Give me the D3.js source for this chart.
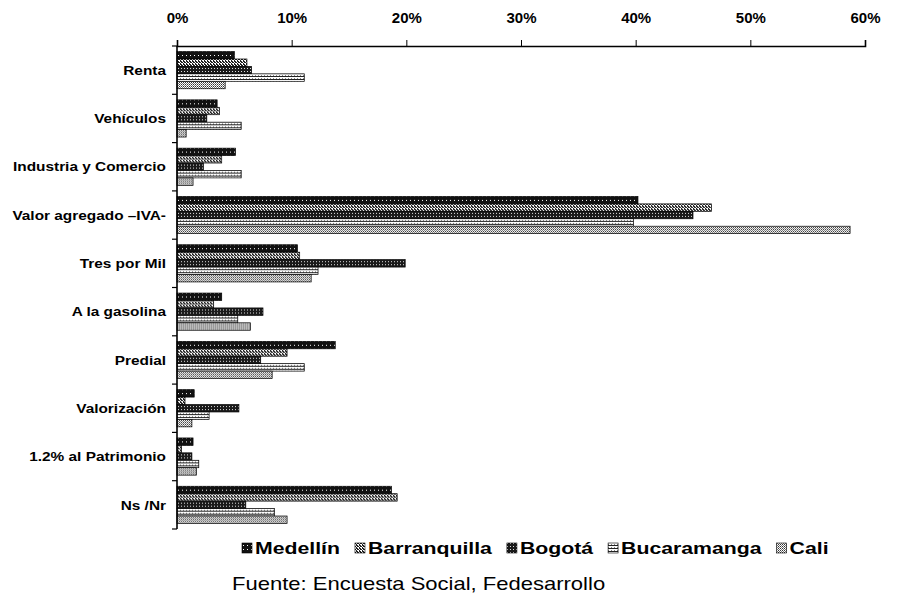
<!DOCTYPE html>
<html>
<head>
<meta charset="utf-8">
<script src="https://cdn.jsdelivr.net/npm/d3@7"></script>
<style>
  body { margin: 0; background: #fff; }
  text { font-family: "Liberation Sans", Arial, sans-serif; }
</style>
</head>
<body>
<svg id="chart" width="904" height="610"></svg>
<script>
// Data
const categories = ["Renta", "Vehículos", "Industria y Comercio", "Valor agregado –IVA-",
    "Tres por Mil", "A la gasolina", "Predial", "Valorización", "1.2% al Patrimonio", "Ns /Nr"];
const cities = ["Medellín", "Barranquilla", "Bogotá", "Bucaramanga", "Cali"];
const medellin     = [5.0, 3.5, 5.1, 40.2, 10.5, 3.9, 13.8, 1.5, 1.4, 18.7];
const barranquilla = [6.1, 3.7, 3.9, 46.6, 10.7, 3.2, 9.6, 0.7, 0.4, 19.2];
const bogota       = [6.5, 2.6, 2.3, 45.0, 19.9, 7.5, 7.3, 5.4, 1.3, 6.0];
const bucaramanga  = [11.1, 5.6, 5.6, 39.8, 12.3, 5.3, 11.1, 2.8, 1.9, 8.5];
const cali         = [4.2, 0.8, 1.4, 58.7, 11.7, 6.4, 8.3, 1.3, 1.7, 9.6];
const seriesValues = [medellin, barranquilla, bogota, bucaramanga, cali];
const xTicks = [0, 10, 20, 30, 40, 50, 60];

const svg = d3.select("#chart");
const margin = { left: 177, right: 39, top: 46, bottom: 81 };
const width = 904 - margin.left - margin.right;
const height = 610 - margin.top - margin.bottom;

// the scanned text is stretched sideways, so text gets a small x-scale
const legendStretch = 1.25;
const sourceStretch = 1.19;

// Fill patterns that imitate the halftone look of the scan
const defs = svg.append("defs");
function addPattern(id, size, bg, dots) {
    const p = defs.append("pattern").attr("id", id)
        .attr("patternUnits", "userSpaceOnUse").attr("width", size).attr("height", size);
    p.append("rect").attr("width", size).attr("height", size).attr("fill", bg);
    dots.forEach(d => p.append("rect").attr("x", d[0]).attr("y", d[1])
        .attr("width", d[2] || 1).attr("height", d[3] || 1).attr("fill", d[4]));
}
addPattern("p0", 4, "#111", [[1, 1, 1, 1, "#fff"]]);
addPattern("p1", 3, "#fff", [[0, 0, 2, 1, "#222"], [1, 1, 2, 1, "#222"], [0, 2, 1, 1, "#222"]]);
addPattern("p2", 3, "#1a1a1a", [[1, 1, 1, 1, "#ddd"]]);
addPattern("p3", 3, "#fff", [[0, 0, 3, 1, "#222"], [0, 2, 1, 1, "#888"]]);
addPattern("p4", 2, "#fff", [[0, 0, 1, 1, "#333"], [1, 1, 1, 1, "#777"]]);

const x = d3.scaleLinear().domain([0, 60]).range([0, width]);
const y0 = d3.scaleBand().domain(categories).range([0, height]).padding(0);
const y1 = d3.scaleBand().domain(cities)
    .range([y0.bandwidth() * 0.115, y0.bandwidth() * 0.885]).padding(0);

const g = svg.append("g").attr("transform", `translate(${margin.left},${margin.top})`);

// Bars
const groups = g.selectAll("g.cat")
    .data(categories)
    .join("g")
    .attr("class", "cat")
    .attr("transform", d => `translate(0,${y0(d)})`);

groups.selectAll("rect")
    .data((c, i) => cities.map((city, s) => ({ city, s, v: seriesValues[s][i] })))
    .join("rect")
    .attr("x", 0)
    .attr("y", d => y1(d.city))
    .attr("width", d => x(d.v))
    .attr("height", y1.bandwidth())
    .attr("fill", d => `url(#p${d.s})`)
    .attr("stroke", "#000")
    .attr("stroke-width", 0.7);

// Top axis
const xAxis = g.append("g")
    .call(d3.axisTop(x).tickValues(xTicks).tickFormat(d => d + "%").tickSize(6).tickPadding(17));
xAxis.select(".domain").attr("stroke-width", 1.6);
xAxis.selectAll("text")
    .attr("font-size", 15).attr("font-weight", "bold").attr("fill", "#000")
    .attr("font-family", "'Liberation Sans', Arial, sans-serif");

// Left axis with ticks at band edges
const yAxis = g.append("g");
yAxis.append("line").attr("x1", 0).attr("x2", 0).attr("y1", 0).attr("y2", height)
    .attr("stroke", "#000").attr("stroke-width", 1.6);
yAxis.selectAll("line.tk")
    .data(categories.concat(["end"]))
    .join("line")
    .attr("class", "tk")
    .attr("x1", -5).attr("x2", 0)
    .attr("y1", (d, i) => i * y0.bandwidth())
    .attr("y2", (d, i) => i * y0.bandwidth())
    .attr("stroke", "#000").attr("stroke-width", 1.2);
yAxis.selectAll("text")
    .data(categories)
    .join("text")
    .attr("transform", d => `translate(-11,${y0(d) + y0.bandwidth() / 2}) scale(1.14,1)`)
    .attr("dy", "0.35em")
    .attr("text-anchor", "end")
    .attr("font-size", 13.5)
    .attr("font-weight", "bold")
    .text(d => d);

// Legend
const legend = svg.append("g").attr("transform", "translate(242,548)");
let lx = 0;
cities.forEach((city, s) => {
    legend.append("rect").attr("x", lx).attr("y", -5).attr("width", 10).attr("height", 10)
        .attr("fill", `url(#p${s})`).attr("stroke", "#000").attr("stroke-width", 0.6);
    const t = legend.append("text")
        .attr("transform", `translate(${lx + 13},0) scale(${legendStretch},1)`)
        .attr("dy", "0.36em")
        .attr("font-size", 17).attr("font-weight", "bold").text(city);
    lx += 13 + t.node().getComputedTextLength() * legendStretch + 15;
});

// Source line
svg.append("text")
    .attr("transform", `translate(232,584) scale(${sourceStretch},1)`)
    .attr("dy", "0.35em")
    .attr("font-size", 18.5)
    .text("Fuente: Encuesta Social, Fedesarrollo");
</script>
</body>
</html>
